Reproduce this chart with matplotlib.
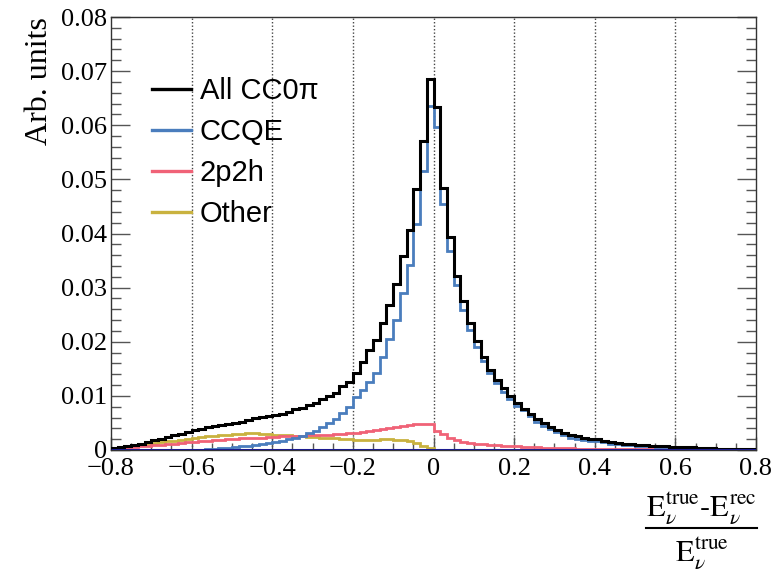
import numpy as np
import matplotlib
matplotlib.use("Agg")
import matplotlib.pyplot as plt
from matplotlib.lines import Line2D
from matplotlib.ticker import MultipleLocator

# ---------------- data (bin contents, 96 bins from -0.8 to 0.8) ----------------
x_min, x_max, n_bins = -0.8, 0.8, 96

all_cc0pi = [0.0003, 0.0005, 0.0007, 0.0009, 0.0012, 0.0015, 0.0018, 0.0021, 0.0024, 0.0027,
             0.0030, 0.0033, 0.0037, 0.0039, 0.0042, 0.0044, 0.0046, 0.0048, 0.0050, 0.0052,
             0.0056, 0.0059, 0.0061, 0.0063, 0.0064, 0.0067, 0.0071, 0.0075, 0.0077, 0.0083,
             0.0087, 0.0094, 0.0100, 0.0106, 0.0118, 0.0126, 0.0143, 0.0163, 0.0185, 0.0203,
             0.0235, 0.0268, 0.0307, 0.0359, 0.0406, 0.0482, 0.0571, 0.0685,
             0.0633, 0.0484, 0.0393, 0.0322, 0.0276, 0.0235, 0.0201, 0.0172, 0.0148, 0.0129,
             0.0114, 0.0099, 0.0086, 0.0076, 0.0067, 0.0057, 0.0049, 0.0043, 0.0037, 0.0032,
             0.0028, 0.0025, 0.0023, 0.0021, 0.0020, 0.0017, 0.0015, 0.0013, 0.0012, 0.0011,
             0.0010, 0.0009, 0.0008, 0.0008, 0.0007, 0.0006, 0.0006, 0.0005, 0.0005, 0.0004,
             0.0003, 0.0003, 0.0002, 0.0002, 0.0002, 0.0001, 0.0001, 0.0001]

ccqe = [0.0, 0.0, 0.0, 0.0, 0.0, 0.0, 0.0, 0.0, 0.0, 0.0,
        0.0, 0.0, 0.0, 0.0, 0.0001, 0.0002, 0.0003, 0.0004, 0.0005, 0.0007,
        0.0008, 0.0010, 0.0011, 0.0013, 0.0015, 0.0017, 0.0020, 0.0023, 0.0026, 0.0031,
        0.0036, 0.0043, 0.0049, 0.0057, 0.0068, 0.0080, 0.0097, 0.0110, 0.0126, 0.0142,
        0.0172, 0.0206, 0.0240, 0.0290, 0.0342, 0.0418, 0.0516, 0.0636,
        0.0597, 0.0455, 0.0368, 0.0305, 0.0259, 0.0222, 0.0190, 0.0165, 0.0142, 0.0124,
        0.0108, 0.0094, 0.0082, 0.0073, 0.0062, 0.0052, 0.0045, 0.0039, 0.0034, 0.0028,
        0.0023, 0.0021, 0.0019, 0.0017, 0.0016, 0.0014, 0.0012, 0.0011, 0.0010, 0.0009,
        0.0008, 0.0007, 0.0007, 0.0006, 0.0005, 0.0005, 0.0004, 0.0004, 0.0004, 0.0003,
        0.0003, 0.0002, 0.0002, 0.0002, 0.0001, 0.0001, 0.0001, 0.0001]

two_p_two_h = [0.0001, 0.0002, 0.0004, 0.0005, 0.0007, 0.0008, 0.0009, 0.0010, 0.0011, 0.0012,
               0.0013, 0.0014, 0.0015, 0.0016, 0.0017, 0.0018, 0.0019, 0.0020, 0.0021, 0.0022,
               0.0022, 0.0023, 0.0023, 0.0024, 0.0024, 0.0025, 0.0025, 0.0026, 0.0026, 0.0027,
               0.0027, 0.0028, 0.0028, 0.0029, 0.0030, 0.0031, 0.0031, 0.0033, 0.0035, 0.0037,
               0.0038, 0.0040, 0.0043, 0.0045, 0.0047, 0.0048, 0.0048, 0.0048,
               0.0036, 0.0029, 0.0023, 0.0018, 0.0015, 0.0013, 0.0012, 0.0011, 0.0010, 0.0009,
               0.0008, 0.0008, 0.0007, 0.0006, 0.0006, 0.0005, 0.0004, 0.0004, 0.0003, 0.0003,
               0.0003, 0.0002, 0.0002, 0.0002, 0.0002, 0.0001, 0.0001, 0.0001, 0.0001, 0.0001,
               0.0001, 0.0001, 0.0001, 0.0001, 0.0001, 0.0001, 0.0001, 0.0001, 0.0001, 0.0001,
               0.00005, 0.00005, 0.00005, 0.00005, 0.00005, 0.00005, 0.00005, 0.00005]

other = [0.0001, 0.0003, 0.0005, 0.0007, 0.0009, 0.0011, 0.0013, 0.0014, 0.0016, 0.0017,
         0.0019, 0.0020, 0.0022, 0.0024, 0.0025, 0.0026, 0.0027, 0.0028, 0.0029, 0.0030,
         0.0031, 0.0031, 0.0030, 0.0029, 0.0028, 0.0028, 0.0027, 0.0026, 0.0025, 0.0024,
         0.0024, 0.0023, 0.0023, 0.0022, 0.0021, 0.0020, 0.0019, 0.0018, 0.0018, 0.0019,
         0.0020, 0.0020, 0.0019, 0.0019, 0.0017, 0.0013, 0.0008, 0.0003,
         0.0, 0.0, 0.0, 0.0, 0.0, 0.0, 0.0, 0.0, 0.0, 0.00005,
         0.00005, 0.00005, 0.00005, 0.00005, 0.00005, 0.00005, 0.00005, 0.00005, 0.00005, 0.00005,
         0.00005, 0.0, 0.0, 0.0, 0.0, 0.0, 0.0, 0.0, 0.0, 0.0,
         0.0, 0.0, 0.0, 0.0, 0.0, 0.0, 0.0, 0.0, 0.0, 0.0,
         0.0, 0.0, 0.0, 0.0, 0.0, 0.0, 0.0, 0.0]

non_cc0pi = [0.0] * n_bins  # flat component lying on zero

labels = ["All CC0\u03c0", "CCQE", "2p2h", "Other"]
colors = ["#000000", "#4a7dbd", "#f06277", "#c9b23f"]
x_tick_values = [-0.8, -0.6, -0.4, -0.2, 0, 0.2, 0.4, 0.6, 0.8]
x_tick_labels = ["\u22120.8", "\u22120.6", "\u22120.4", "\u22120.2", "0", "0.2", "0.4", "0.6", "0.8"]
y_tick_values = [0, 0.01, 0.02, 0.03, 0.04, 0.05, 0.06, 0.07, 0.08]
y_tick_labels = ["0", "0.01", "0.02", "0.03", "0.04", "0.05", "0.06", "0.07", "0.08"]
x_label_num = r"$\mathrm{E}_{\nu}^{\mathrm{true}}\mathrm{\text{-}E}_{\nu}^{\mathrm{rec}}$"
x_label_den = r"$\mathrm{E}_{\nu}^{\mathrm{true}}$"

# ---------------- figure ----------------
W, H = 783, 571
fig = plt.figure(figsize=(W / 100, H / 100), dpi=100)
plt.rcParams["mathtext.fontset"] = "stix"
ax_l, ax_r, ax_t, ax_b = 111, 756, 17, 450
ax = fig.add_axes([ax_l / W, 1 - ax_b / H, (ax_r - ax_l) / W, (ax_b - ax_t) / H])

edges = np.linspace(x_min, x_max, n_bins + 1)

for xv in x_tick_values[1:-1]:
    ax.axvline(xv, color="#444444", ls=(0, (1, 1.5)), lw=1.0, zorder=1)

ax.stairs(other, edges, color=colors[3], lw=2.0, zorder=2)
ax.stairs(two_p_two_h, edges, color=colors[2], lw=2.0, zorder=3)
ax.stairs(ccqe, edges, color=colors[1], lw=2.0, zorder=4)
ax.stairs(all_cc0pi, edges, color=colors[0], lw=2.2, zorder=5)
ax.stairs(non_cc0pi, edges, color="#1b1b8f", lw=2.2, zorder=6)

ax.set_xlim(x_min, x_max)
ax.set_ylim(0, 0.08)

serif = "Liberation Serif"
ax.set_xticks(x_tick_values)
ax.set_xticklabels(x_tick_labels, fontfamily=serif, fontsize=19)
ax.set_yticks(y_tick_values)
ax.set_yticklabels(y_tick_labels, fontfamily=serif, fontsize=19)
ax.xaxis.set_minor_locator(MultipleLocator(0.05))
ax.yaxis.set_minor_locator(MultipleLocator(0.002))
ax.tick_params(axis="x", which="major", direction="in", length=9.5, width=1, color="#555555", pad=6)
ax.tick_params(axis="x", which="minor", direction="in", length=4.8, width=1, color="#555555")
ax.tick_params(axis="y", which="major", direction="in", length=14, width=1, color="#555555", right=True, pad=3)
ax.tick_params(axis="y", which="minor", direction="in", length=7, width=1, color="#555555", right=True)
for s in ax.spines.values():
    s.set_linewidth(1.0)
    s.set_color("#333333")

ax.set_ylabel("Arb. units", fontfamily=serif, fontsize=23, loc="top")
ax.yaxis.set_label_coords(-0.088, 1.0)

# x-axis title as a fraction (numerator, bar, denominator)
frac_l, frac_r, frac_bar = 646, 757, 528
frac_c = (frac_l + frac_r) / 2
fig.text(frac_c / W, 1 - 515 / H, x_label_num, ha="center", va="baseline", fontsize=22)
fig.text(frac_c / W, 1 - 560 / H, x_label_den, ha="center", va="baseline", fontsize=22)
fig.add_artist(Line2D([frac_l / W, frac_r / W], [1 - frac_bar / H, 1 - frac_bar / H],
                      color="black", lw=1.5, transform=fig.transFigure))

handles = [Line2D([], [], color=c, lw=2.4) for c in colors]
leg = ax.legend(handles, labels, loc="upper left",
                bbox_to_anchor=((152 - ax_l) / (ax_r - ax_l), (ax_b - 77) / (ax_b - ax_t)),
                frameon=False, borderpad=0, borderaxespad=0,
                handlelength=1.35, handletextpad=0.28, labelspacing=0.45,
                prop={"family": "Liberation Sans", "size": 21})

fig.savefig("out.png", dpi=100)
